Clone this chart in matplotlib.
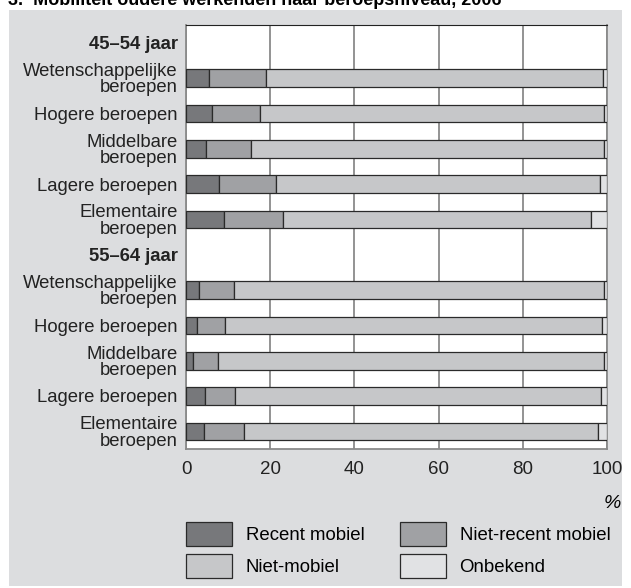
import numpy as np
import matplotlib.pyplot as plt
from matplotlib.patches import Rectangle, Patch

# data (percent)
groups = ['45–54 jaar', '55–64 jaar']
beroepen = ['Wetenschappelijke\nberoepen', 'Hogere beroepen', 'Middelbare\nberoepen',
            'Lagere beroepen', 'Elementaire\nberoepen']
series = ['Recent mobiel', 'Niet-recent mobiel', 'Niet-mobiel', 'Onbekend']

recent_45 = [5.4, 6.1, 4.7, 7.9, 9.0]
nietrecent_45 = [13.6, 11.5, 10.7, 13.5, 14.0]
nietmobiel_45 = [80.0, 81.6, 84.0, 76.9, 73.3]
onbekend_45 = [1.0, 0.8, 0.6, 1.7, 3.7]

recent_55 = [3.1, 2.5, 1.7, 4.6, 4.2]
nietrecent_55 = [8.3, 6.7, 6.0, 7.1, 9.6]
nietmobiel_55 = [87.8, 89.5, 91.5, 86.9, 84.0]
onbekend_55 = [0.8, 1.3, 0.8, 1.4, 2.2]

colors = ['#77787b', '#a0a1a4', '#c6c7c9', '#e1e2e4']
panel = '#dcdddf'
font = 'Liberation Sans'

fig = plt.figure(figsize=(6.31, 5.88), dpi=100)
fig.patches.append(Rectangle((9 / 631, 1 - 586 / 588), 613 / 631, 576 / 588,
                             transform=fig.transFigure, facecolor=panel,
                             edgecolor='none', zorder=-10))
fig.text(8 / 631, 1 - 5 / 588, '3.  Mobiliteit oudere werkenden naar beroepsniveau, 2006',
         fontsize=13, fontweight='bold', family=font, va='baseline')

ax = fig.add_axes([186 / 631, 1 - 449 / 588, 421 / 631, 424 / 588])

data = [[recent_45, nietrecent_45, nietmobiel_45, onbekend_45],
        [recent_55, nietrecent_55, nietmobiel_55, onbekend_55]]

labels = []
positions = []
pos = 0
for g, gdata in zip(groups, data):
    labels.append(g)
    positions.append(pos)
    ys = np.arange(pos + 1, pos + 1 + len(beroepen))
    left = np.zeros(len(beroepen))
    for vals, c in zip(gdata, colors):
        ax.barh(ys, vals, left=left, height=0.5, color=c, edgecolor='#2a2a2a',
                linewidth=0.9, zorder=3)
        left += np.array(vals)
    labels += beroepen
    positions += list(ys)
    pos += len(beroepen) + 1

ax.set_xlim(0, 100)
ax.set_ylim(pos - 0.5, -0.5)
ax.set_yticks(positions)
ax.set_yticklabels(labels, fontsize=13.3, family=font, linespacing=0.95)
for t in ax.get_yticklabels():
    if t.get_text() in groups:
        t.set_fontweight('bold')
ax.set_xticks([0, 20, 40, 60, 80, 100])
ax.set_xticklabels(['0', '20', '40', '60', '80', '100'], fontsize=13.5, family=font)
ax.tick_params(axis='both', length=0, colors='#222222')
ax.tick_params(axis='y', pad=6)
ax.tick_params(axis='x', pad=9)
ax.grid(axis='x', color='#8a8a8a', linewidth=1.3, zorder=0)
for s in ['left', 'right', 'bottom']:
    ax.spines[s].set_color('#8a8a8a')
    ax.spines[s].set_linewidth(1.3)
ax.spines['top'].set_color('#222222')
ax.set_facecolor('white')

fig.text(621 / 631, 1 - 503 / 588, '%', fontsize=14, ha='right', va='center',
         style='italic', family=font)

handles = [Patch(facecolor=c, edgecolor='#2a2a2a', linewidth=0.9) for c in colors]
order = [0, 2, 1, 3]
fig.legend([handles[i] for i in order], [series[i] for i in order], ncol=2,
           loc='upper left', bbox_to_anchor=(186 / 631, 1 - 522 / 588),
           frameon=False, prop={'family': font, 'size': 13.4},
           handlelength=2.47, handleheight=1.6, handletextpad=0.75,
           columnspacing=1.88, labelspacing=0.42, borderpad=0, borderaxespad=0)

fig.savefig('out.png', dpi=100, facecolor='white')
